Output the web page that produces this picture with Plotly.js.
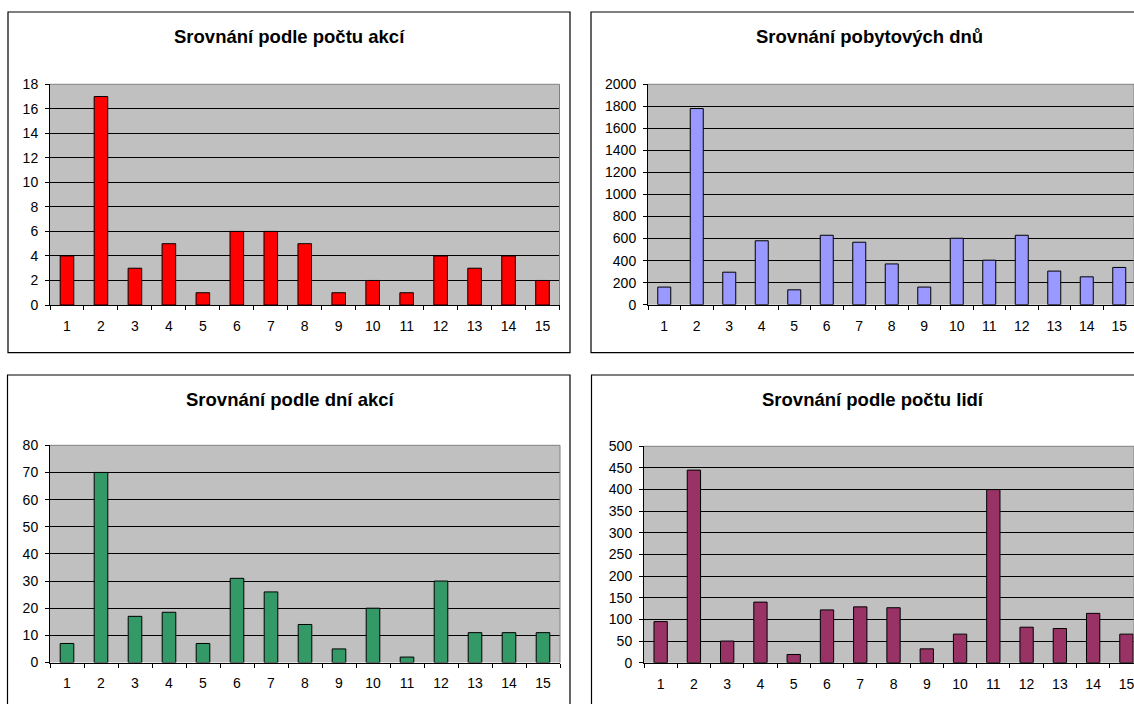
<!DOCTYPE html>
<html>
<head>
<meta charset="utf-8">
<script src="https://cdn.plot.ly/plotly-3.0.1.min.js"></script>
<style>
  html, body { margin: 0; padding: 0; background: #fff; }
  #chart { width: 1134px; height: 704px; }
</style>
</head>
<body>
<div id="chart"></div>
<script>
// ---- data ----
const categories = ["1","2","3","4","5","6","7","8","9","10","11","12","13","14","15"];
const pocetAkci = [4, 17, 3, 5, 1, 6, 6, 5, 1, 2, 1, 4, 3, 4, 2];
const pobytoveDny = [160, 1780, 295, 580, 135, 630, 567, 370, 160, 603, 404, 630, 305, 253, 338];
const dniAkci = [7, 70, 17, 18.5, 7, 31, 26, 14, 5, 20, 2, 30, 11, 11, 11];
const pocetLidi = [95, 445, 50, 140, 19, 122, 129, 127, 32, 66, 400, 82, 79, 114, 66];
const titles = ["Srovnání podle počtu akcí", "Srovnání pobytových dnů", "Srovnání podle dní akcí", "Srovnání podle počtu lidí"];

// ---- layout helpers ----
const W = 1134, H = 704;
const px = x => x / W;
const py = y => 1 - y / H;
const FONT = "Liberation Sans, Arial, sans-serif";

const panels = [
  {vals: pocetAkci, color: "#FF0000", x0: 50, x1: 559.5, y0: 84.3, y1: 305, xr: [-0.5, 14.5], yr: [0, 18], dt: 2,
   box: [8, 570, 12, 352.7], tx: 289, ty: 36},
  {vals: pobytoveDny, color: "#9999FF", x0: 648, x1: 1134, y0: 84.3, y1: 304.7, xr: [-0.5, -0.5 + (1134 - 648) / 32.5], yr: [0, 2000], dt: 200,
   box: [591, 1147, 12, 352.7], tx: 869, ty: 36},
  {vals: dniAkci, color: "#339966", x0: 50, x1: 560, y0: 445.3, y1: 662.5, xr: [-0.5, 14.5], yr: [0, 80], dt: 10,
   box: [7.5, 570, 375, 730], tx: 290, ty: 399},
  {vals: pocetLidi, color: "#993366", x0: 644, x1: 1134, y0: 446.3, y1: 662.7, xr: [-0.5, -0.5 + (1134 - 644) / 33.27], yr: [0, 500], dt: 50,
   box: [591.5, 1155, 375, 730], tx: 873, ty: 399}
];

const data = [];
const layout = {
  width: W, height: H,
  margin: {l: 0, r: 0, t: 0, b: 0},
  paper_bgcolor: "#ffffff",
  plot_bgcolor: "#C0C0C0",
  showlegend: false,
  bargap: 0.6,
  font: {family: FONT, size: 14, color: "#000"},
  shapes: [],
  annotations: []
};

panels.forEach((p, i) => {
  const n = i === 0 ? "" : String(i + 1);
  data.push({
    type: "bar",
    x: categories,
    y: p.vals,
    xaxis: "x" + n,
    yaxis: "y" + n,
    marker: {color: p.color, line: {color: "#000", width: 1}},
    hoverinfo: "none"
  });
  layout["xaxis" + n] = {
    type: "category",
    domain: [px(p.x0), px(p.x1)],
    range: p.xr,
    anchor: "y" + n,
    showgrid: false,
    zeroline: false,
    showline: true,
    linecolor: "#000",
    linewidth: 1,
    ticks: "outside",
    tickson: "boundaries",
    ticklen: 4,
    tickcolor: "#000",
    tickfont: {family: FONT, size: 14, color: "#000"},
    ticklabelstandoff: 8,
    fixedrange: true
  };
  layout["yaxis" + n] = {
    domain: [py(p.y1), py(p.y0)],
    range: p.yr,
    dtick: p.dt,
    tick0: 0,
    anchor: "x" + n,
    showgrid: true,
    gridcolor: "#000",
    gridwidth: 1,
    zeroline: false,
    showline: true,
    linecolor: "#000",
    linewidth: 1,
    ticks: "outside",
    ticklen: 4,
    tickcolor: "#000",
    tickfont: {family: FONT, size: 14, color: "#000"},
    ticklabelstandoff: 4,
    fixedrange: true
  };
  // gray top & right border of plot area
  layout.shapes.push({type: "line", xref: "paper", yref: "paper", x0: px(p.x0), x1: px(p.x1), y0: py(p.y0), y1: py(p.y0),
    line: {color: "#808080", width: 1}, layer: "above"});
  layout.shapes.push({type: "line", xref: "paper", yref: "paper", x0: px(p.x1), x1: px(p.x1), y0: py(p.y0), y1: py(p.y1),
    line: {color: "#808080", width: 1}, layer: "above"});
  // outer chart box
  layout.shapes.push({type: "rect", xref: "paper", yref: "paper",
    x0: px(p.box[0]), x1: px(p.box[1]), y0: py(p.box[3]), y1: py(p.box[2]),
    line: {color: "#000", width: 1.2}, fillcolor: "rgba(0,0,0,0)", layer: "above"});
  // title
  layout.annotations.push({
    text: "<b>" + titles[i] + "</b>",
    xref: "paper", yref: "paper",
    x: px(p.tx), y: py(p.ty),
    xanchor: "center", yanchor: "middle",
    showarrow: false,
    font: {family: FONT, size: 18.5, color: "#000"}
  });
});

Plotly.newPlot("chart", data, layout, {displayModeBar: false, staticPlot: true});
</script>
</body>
</html>
